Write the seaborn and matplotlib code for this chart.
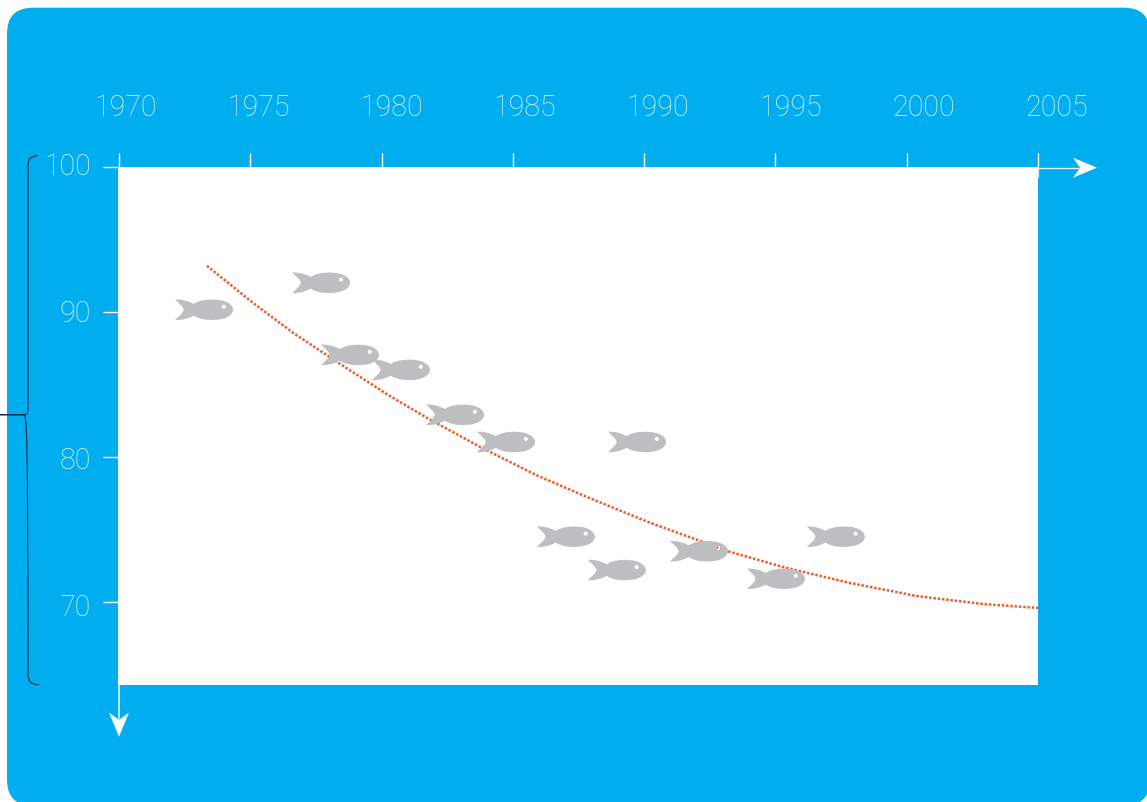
import matplotlib
matplotlib.use("Agg")
import matplotlib.pyplot as plt
import matplotlib.transforms as mtrans
from matplotlib.path import Path
from matplotlib.patches import FancyBboxPatch, PathPatch, Polygon
import pandas as pd
import seaborn as sns

# ---- data ----
fish_years = [1973.24, 1977.70, 1978.80, 1980.74, 1982.80, 1984.74,
              1987.02, 1988.96, 1989.73, 1992.09, 1995.02, 1997.30]
fish_values = [90.14, 92.00, 87.03, 86.00, 82.90, 81.03,
               74.50, 72.20, 81.03, 73.50, 71.60, 74.50]
trend_years = [1973.35, 1975.10, 1976.63, 1978.42, 1980.21, 1981.73, 1983.75,
               1985.92, 1987.82, 1990.14, 1992.12, 1993.15, 1995.29,
               1997.84, 2000.39, 2002.90, 2005.00]
trend_values = [93.17, 90.62, 88.55, 86.41, 84.31, 82.69, 80.69,
                78.72, 77.24, 75.52, 74.21, 73.52, 72.41,
                71.31, 70.41, 69.86, 69.59]
x_ticks = [1970, 1975, 1980, 1985, 1990, 1995, 2000, 2005]
y_ticks = [70, 80, 90, 100]

W, H = 1147, 803
OFF = 0.7
BLUE = "#00AEEF"
LABEL = "#DDF5FE"

sns.set_style("white")
plt.rcParams["font.family"] = ["Roboto", "DejaVu Sans"]
fig = plt.figure(figsize=(W / 100, H / 100), dpi=100, facecolor="white")
px = mtrans.Affine2D().translate(0, OFF).scale(1 / W, -1 / H).translate(0, 1) + fig.transFigure


def rect(x0, y0, x1, y1):
    return [x0 / W, 1 - (y1 + OFF) / H, (x1 - x0) / W, (y1 - y0) / H]


# rounded blue card
R = 26
fig.add_artist(FancyBboxPatch((7 + R, 8 + R), 1150 - 7 - 2 * R, 806 - 8 - 2 * R,
                              boxstyle=f"round,pad={R},rounding_size={R}",
                              fc=BLUE, ec="none", transform=px, zorder=-1))

# main plot
ax = fig.add_axes(rect(118, 167, 1038, 685), facecolor="white")
ax.set_xlim(1970 - 1 / 26.26, 2005)
ax.set_ylim(64.3, 100)
for s in ax.spines.values():
    s.set_visible(False)

df_trend = pd.DataFrame({"year": trend_years, "value": trend_values})
sns.lineplot(data=df_trend, x="year", y="value", ax=ax, color="#F15A29", lw=1.8,
             linestyle=(0, (1, 0.72)), estimator=None, sort=False, zorder=2)

# fish glyph with a hole for the eye (units: zoomed reference pixels)
eye_x, eye_y, r = 58, 9, 6
k = 0.55 * r
verts = [(-85, 30), (-68, 31), (-48, 27), (-30, 17),
         (-10, 32), (35, 33), (60, 25), (75, 20), (85, 10), (85, 0),
         (85, -10), (75, -20), (60, -25), (35, -33), (-10, -32), (-30, -17),
         (-48, -27), (-68, -31), (-85, -30),
         (-72, -17), (-60, -8), (-60, 0), (-60, 8), (-72, 17), (-85, 30),
         (eye_x + r, eye_y), (eye_x + r, eye_y + k), (eye_x + k, eye_y + r), (eye_x, eye_y + r),
         (eye_x - k, eye_y + r), (eye_x - r, eye_y + k), (eye_x - r, eye_y),
         (eye_x - r, eye_y - k), (eye_x - k, eye_y - r), (eye_x, eye_y - r),
         (eye_x + k, eye_y - r), (eye_x + r, eye_y - k), (eye_x + r, eye_y),
         (eye_x + r, eye_y)]
C, M, L = Path.CURVE4, Path.MOVETO, Path.CLOSEPOLY
codes = [M] + [C] * 24 + [M] + [C] * 12 + [L]
fish = Path([(x / 85, y / 85) for x, y in verts], codes)

df_fish = pd.DataFrame({"year": fish_years, "value": fish_values})
sns.scatterplot(data=df_fish, x="year", y="value", ax=ax, marker=fish, s=(58 * 0.72) ** 2,
                color="#BCBEC0", edgecolor="none", linewidth=0, zorder=3)

ax.set_xlabel("")
ax.set_ylabel("")
ax.set_xticks(x_ticks)
ax.set_yticks(y_ticks)
ax.tick_params(axis="x", top=True, bottom=False, labelbottom=False, labeltop=False,
               length=10, width=1, color="white", direction="out")
ax.tick_params(axis="y", left=True, labelleft=False, length=10.8, width=1, color="white",
               direction="out")

# year labels sit on their own slightly wider scale
lab = fig.add_axes(rect(126, 91, 1057, 93), frame_on=False)
lab.patch.set_visible(False)
lab.set_xlim(1970, 2005)
lab.set_yticks([])
lab.set_xticks(x_ticks)
lab.set_xticklabels([str(v) for v in x_ticks], fontsize=20.6, color=LABEL, fontweight="light")
lab.tick_params(axis="x", bottom=False, top=False, labelbottom=True, pad=0, length=0)

# the value labels likewise
laby = fig.add_axes(rect(91, 163.7, 93, 604.7), frame_on=False)
laby.patch.set_visible(False)
laby.set_ylim(70, 100)
laby.set_xticks([])
laby.set_yticks(y_ticks)
laby.set_yticklabels([str(v) for v in y_ticks], fontsize=20.6, color=LABEL, fontweight="light")
laby.tick_params(axis="y", left=False, right=False, labelleft=True, pad=0, length=0)

# axis arrows
fig.add_artist(plt.Line2D([1038, 1078], [168, 168], color="#DDF4FD", lw=1, transform=px))
fig.add_artist(plt.Line2D([1038.3, 1038.3], [167, 177], color="#BFEBFB", lw=1, transform=px))
fig.add_artist(plt.Line2D([119, 119], [685, 718], color="#DDF4FD", lw=1.2, transform=px))
fig.add_artist(Polygon([(1073, 158), (1097, 168), (1073, 178), (1080, 168)], fc="white", ec="none", transform=px))
fig.add_artist(Polygon([(109, 713), (119, 737), (129, 713), (119, 720)], fc="white", ec="none", transform=px))

# bracket
brace = Path([(38, 156), (32, 156), (28, 159), (28, 166), (28, 410), (28, 413), (26.5, 415), (24, 415),
              (0, 415), (24, 415), (26.5, 417), (28, 419), (28, 675), (28, 682), (32, 685), (39, 685)],
             [M, C, C, C, Path.LINETO, C, C, C, Path.LINETO, Path.LINETO, C, C, Path.LINETO, C, C, C])
fig.add_artist(PathPatch(brace, fc="none", ec="#0B2A45", lw=0.8, transform=px))

fig.savefig("out.png", dpi=100, facecolor="white")
